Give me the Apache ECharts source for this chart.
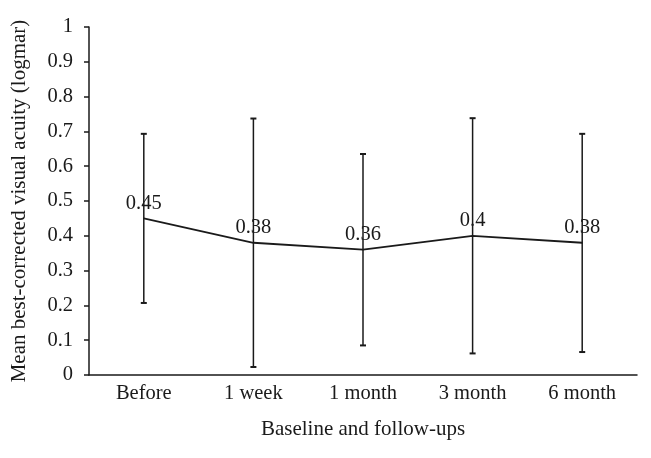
<!DOCTYPE html>
<html>
<head>
<meta charset="utf-8">
<script src="https://cdn.jsdelivr.net/npm/echarts@6/dist/echarts.min.js"></script>
<style>
html,body{margin:0;padding:0;background:#fff;}
#chart{width:651px;height:458px;}
</style>
</head>
<body>
<div id="chart"></div>
<script>
var categories = ['Before', '1 week', '1 month', '3 month', '6 month'];
var meanValues = [0.45, 0.38, 0.36, 0.4, 0.38];
var lowValues = [0.207, 0.023, 0.085, 0.062, 0.066];
var highValues = [0.693, 0.737, 0.635, 0.738, 0.693];
var yTicks = [0, 0.1, 0.2, 0.3, 0.4, 0.5, 0.6, 0.7, 0.8, 0.9, 1];

var FONT = '"Liberation Serif", "Times New Roman", serif';
var INK = '#1a1a1a';

var errorData = categories.map(function (c, i) { return [i, lowValues[i], highValues[i]]; });

var chart = echarts.init(document.getElementById('chart'), null, {renderer: 'canvas'});
chart.setOption({
  animation: false,
  backgroundColor: '#fff',
  grid: {left: 89, right: 14, top: 27, bottom: 83, containLabel: false},
  xAxis: {
    type: 'category',
    data: categories,
    boundaryGap: true,
    name: 'Baseline and follow-ups',
    nameLocation: 'middle',
    nameGap: 44,
    nameTextStyle: {fontFamily: FONT, fontSize: 21, color: INK},
    axisLine: {lineStyle: {color: INK, width: 1.5}},
    axisTick: {alignWithLabel: true, length: 5, lineStyle: {color: INK, width: 1.5}},
    axisLabel: {fontFamily: FONT, fontSize: 20.5, color: INK, margin: 8},
    splitLine: {show: false}
  },
  yAxis: {
    type: 'value',
    min: yTicks[0],
    max: yTicks[yTicks.length - 1],
    interval: 0.1,
    name: 'Mean best-corrected visual acuity (logmar)',
    nameLocation: 'middle',
    nameGap: 59,
    nameTextStyle: {fontFamily: FONT, fontSize: 21, color: INK},
    axisLine: {show: true, lineStyle: {color: INK, width: 1.5}},
    axisTick: {show: true, length: 5, lineStyle: {color: INK, width: 1.5}},
    axisLabel: {fontFamily: FONT, fontSize: 20.5, color: INK, margin: 16},
    splitLine: {show: false}
  },
  series: [
    {
      type: 'custom',
      data: errorData,
      z: 2,
      renderItem: function (params, api) {
        var x = api.value(0);
        var lo = api.coord([x, api.value(1)]);
        var hi = api.coord([x, api.value(2)]);
        var hw = 3;
        var st = {stroke: INK, lineWidth: 1.5};
        return {
          type: 'group',
          children: [
            {type: 'line', shape: {x1: lo[0], y1: lo[1], x2: hi[0], y2: hi[1]}, style: st},
            {type: 'line', shape: {x1: lo[0] - hw, y1: lo[1], x2: lo[0] + hw, y2: lo[1]}, style: {stroke: INK, lineWidth: 2}},
            {type: 'line', shape: {x1: hi[0] - hw, y1: hi[1], x2: hi[0] + hw, y2: hi[1]}, style: {stroke: INK, lineWidth: 2}}
          ]
        };
      }
    },
    {
      type: 'line',
      data: meanValues,
      z: 3,
      symbol: 'circle',
      symbolSize: 1,
      itemStyle: {color: INK},
      lineStyle: {color: INK, width: 1.8},
      label: {
        show: true,
        position: 'top',
        distance: 4,
        fontFamily: FONT,
        fontSize: 20.5,
        color: INK
      }
    }
  ]
});
</script>
</body>
</html>
